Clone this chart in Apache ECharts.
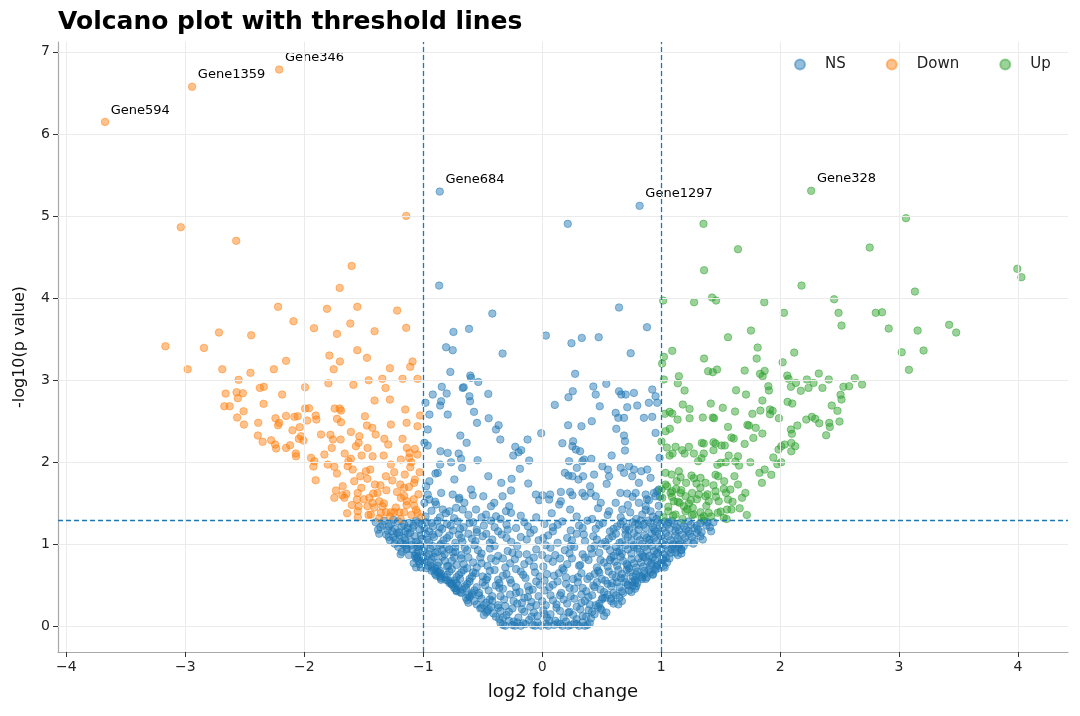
<!DOCTYPE html>
<html>
<head>
<meta charset="utf-8">
<script src="https://cdn.jsdelivr.net/npm/echarts@6/dist/echarts.min.js"></script>
<style>html,body{margin:0;padding:0;background:#fff}#chart{width:1080px;height:716px}</style>
</head>
<body>
<div id="chart"></div>
<script>
const xTicks = [-4,-3,-2,-1,0,1,2,3,4];
const yTicks = [0,1,2,3,4,5,6,7];
const fcThreshold = 1;
const pThreshold = 1.301;

const labeledGenes = [
  {name:'Gene594', group:'Down', x:-3.675, y:6.147},
  {name:'Gene1359', group:'Down', x:-2.943, y:6.574},
  {name:'Gene346', group:'Down', x:-2.211, y:6.784},
  {name:'Gene684', group:'NS', x:-0.861, y:5.298},
  {name:'Gene1297', group:'NS', x:0.819, y:5.124},
  {name:'Gene328', group:'Up', x:2.261, y:5.307}
];

const downPoints = [
[-3.038,4.864],[-2.572,4.698],[-1.143,5.002],[-1.602,4.393],[-1.702,4.125],[-2.220,3.894],[-1.809,3.870],[-1.554,3.894],[-1.219,3.849],[-2.091,3.719],[-1.918,3.634],[-1.613,3.691],[-1.725,3.565],[-1.409,3.597],[-2.717,3.581],[-2.446,3.548],[-1.143,3.638],
[-3.167,3.414],[-2.843,3.394],[-2.980,3.134],[-2.689,3.134],[-2.452,3.090],[-2.153,3.236],[-2.256,3.134],[-1.789,3.301],[-1.700,3.228],[-1.753,3.134],[-1.554,3.366],[-1.473,3.273],[-1.280,3.147],[-1.090,3.228],[-1.109,3.163],
[-2.552,3.005],[-1.993,2.915],[-1.797,2.963],[-1.587,2.944],[-1.459,3.000],[-1.344,3.017],[-1.174,3.017],[-1.048,3.017],[-1.317,2.907],
[-2.661,2.838],[-2.569,2.854],[-2.516,2.842],[-2.558,2.781],[-2.373,2.907],[-2.340,2.920],[-2.186,2.826],[-2.342,2.713],[-2.672,2.683],[-2.627,2.683],[-2.510,2.622],[-2.564,2.546],[-2.507,2.460],[-2.387,2.481],
[-2.242,2.537],[-2.220,2.452],[-2.211,2.481],[-2.153,2.566],[-2.083,2.554],[-2.055,2.562],[-1.976,2.509],[-1.993,2.655],[-1.960,2.659],[-1.904,2.570],[-1.898,2.521],[-1.744,2.655],[-1.702,2.655],[-1.691,2.631],[-1.725,2.530],[-1.691,2.488],
[-2.038,2.428],[-2.099,2.391],[-2.390,2.326],[-2.350,2.250],[-2.278,2.269],[-2.245,2.217],[-2.236,2.168],[-2.153,2.176],[-2.119,2.208],[-2.069,2.074],[-2.071,2.107],[-2.027,2.318],[-2.007,2.265],[-2.046,2.286],[-1.859,2.339],[-1.780,2.335],
[-1.759,2.278],[-1.694,2.278],[-1.769,2.176],[-1.831,2.095],[-1.943,2.055],[-1.915,2.014],[-1.923,1.949],[-1.904,1.782],[-1.803,1.973],[-1.747,1.945],[-1.725,1.864],[-1.660,2.107],[-1.629,2.014],[-1.608,2.043],[-1.635,1.953],[-1.593,1.912],
[-1.608,2.371],[-1.537,2.318],[-1.543,2.238],[-1.566,2.196],[-1.490,2.562],[-1.473,2.448],[-1.428,2.420],[-1.518,2.083],[-1.468,2.176],[-1.426,2.074],[-1.400,2.339],[-1.327,2.286],[-1.294,2.217],[-1.529,1.831],[-1.482,1.892],[-1.445,1.912],
[-1.409,2.753],[-1.280,2.765],[-1.151,2.643],[-1.272,2.460],[-1.140,2.481],[-1.026,2.570],[-1.174,2.286],[-1.138,2.176],[-1.071,2.164],[-1.115,2.115],[-1.048,2.095],[-1.333,2.083],[-1.272,1.973],[-1.244,1.880],[-1.314,1.831],
[-1.188,2.034],[-1.109,1.940],[-1.155,1.851],[-1.076,1.750],[-1.048,2.440],[-1.733,1.657],[-1.747,1.568],[-1.677,1.709],[-1.646,1.616],[-1.663,1.568],[-1.551,1.628],[-1.557,1.547],[-1.543,1.465],[-1.551,1.405],
[-1.453,1.568],[-1.468,1.465],[-1.426,1.507],[-1.440,1.364],[-1.406,1.730],[-1.384,1.628],[-1.369,1.526],[-1.342,1.465],[-1.356,1.385],[-1.314,1.392],[-1.272,1.392],[-1.244,1.392],[-1.202,1.392],[-1.160,1.392],
[-1.193,1.730],[-1.160,1.689],[-1.188,1.568],[-1.138,1.526],[-1.076,1.474],[-1.048,1.385],[-1.118,2.055],
[-1.02,1.33],[-1.06,1.42],[-1.10,1.36],[-1.14,1.48],[-1.19,1.31],[-1.23,1.45],[-1.28,1.34],[-1.33,1.50],[-1.37,1.32],[-1.41,1.45],[-1.46,1.36],[-1.50,1.55],[-1.55,1.33],[-1.60,1.48],[-1.64,1.38],[-1.68,1.60],
[-1.04,1.61],[-1.08,1.55],[-1.12,1.70],[-1.16,1.59],[-1.22,1.64],[-1.26,1.78],[-1.31,1.66],[-1.36,1.72],[-1.42,1.62],[-1.47,1.80],[-1.52,1.69],[-1.58,1.77],[-1.03,1.88],[-1.07,1.79],[-1.10,2.00]
];

const upPoints = [
[1.356,4.905],[1.646,4.596],[3.058,4.974],[2.753,4.616],[1.361,4.340],[3.994,4.357],[4.028,4.255],[2.180,4.153],[3.133,4.080],[1.017,3.971],[1.277,3.950],[1.428,4.007],[1.462,3.971],[1.867,3.950],[2.454,3.987],[2.032,3.821],[2.491,3.821],[2.804,3.821],[2.857,3.828],[2.516,3.666],[2.913,3.630],[3.156,3.605],[3.421,3.675],[3.480,3.581],[1.755,3.605],[1.562,3.524],[3.022,3.341],[3.206,3.362],[3.083,3.127],
[1.093,3.358],[1.023,3.285],[1.008,3.203],[1.811,3.398],[1.803,3.264],[1.361,3.264],[1.395,3.110],[1.434,3.098],[1.470,3.130],[1.702,3.118],[1.831,3.078],[1.853,3.049],[1.870,3.114],[2.119,3.337],[2.021,3.219],
[1.023,3.009],[1.149,3.049],[1.140,2.963],[1.197,2.875],[1.630,2.878],[1.713,2.826],[1.901,2.927],[1.906,2.875],[2.060,3.057],[2.071,3.017],[2.091,2.920],[2.133,2.968],[2.174,2.871],[2.225,3.009],[2.239,2.907],[2.281,2.968],[2.325,3.082],[2.356,2.907],[2.409,3.009],[2.532,2.920],[2.580,2.927],[2.627,3.025],[2.689,2.948],[2.508,2.822],[2.516,2.765],
[1.851,2.753],[2.063,2.737],[2.102,2.716],[2.434,2.692],[2.482,2.627],[1.417,2.716],[1.518,2.664],[1.182,2.704],[1.239,2.651],[1.031,2.591],[1.071,2.615],[1.093,2.595],[1.138,2.521],[1.239,2.537],[1.350,2.546],[1.434,2.546],[1.445,2.537],[1.621,2.619],[1.767,2.591],[1.834,2.631],[1.915,2.643],[1.937,2.627],[1.915,2.586],[1.990,2.537],
[2.220,2.521],[2.267,2.554],[2.295,2.530],[2.329,2.476],[2.413,2.481],[2.418,2.432],[2.499,2.497],[2.387,2.330],[2.145,2.448],[2.091,2.400],[2.099,2.347],[1.562,2.432],[1.725,2.456],[1.738,2.448],[1.795,2.420],[1.591,2.302],[1.610,2.290],[1.775,2.298],[1.851,2.351],[1.702,2.225],[1.535,2.205],[1.440,2.245],[1.457,2.229],[1.342,2.237],[1.358,2.229],
[1.073,2.408],[1.037,2.379],[1.003,2.253],[1.048,2.180],[1.121,2.189],[1.177,2.148],[1.233,2.189],[1.275,2.107],[1.197,2.107],[1.071,2.083],[1.096,2.107],[1.311,2.014],[1.339,2.051],[1.358,2.107],[1.440,2.148],[1.507,2.205],[1.568,2.083],[1.646,2.074],[1.624,2.010],[1.655,1.961],
[1.473,1.970],[1.501,1.994],[1.543,2.001],[1.457,1.848],[1.616,1.831],[1.750,2.001],[1.826,1.872],[1.870,1.912],[1.926,1.848],[1.847,1.750],[1.943,2.059],[1.977,1.977],[2.010,2.001],[1.987,2.156],[2.010,2.196],[2.038,2.217],[2.094,2.237],[2.127,2.196],[2.094,2.135],
[1.037,1.872],[1.088,1.851],[1.149,1.892],[1.163,1.819],[1.255,1.839],[1.275,1.807],[1.331,1.811],[1.373,1.750],[1.297,1.742],[1.093,1.648],[1.126,1.677],[1.163,1.628],[1.205,1.587],[1.260,1.628],[1.317,1.608],[1.107,1.526],[1.155,1.507],[1.191,1.465],[1.233,1.498],[1.266,1.446],
[1.373,1.587],[1.400,1.526],[1.457,1.648],[1.484,1.526],[1.526,1.677],[1.545,1.628],[1.582,1.669],[1.562,1.547],[1.646,1.730],[1.708,1.628],[1.680,1.568],
[1.059,1.404],[1.121,1.364],[1.205,1.404],[1.275,1.364],[1.331,1.392],[1.358,1.343],[1.400,1.385],[1.476,1.385],[1.526,1.324],[1.554,1.425],[1.591,1.425],[1.037,1.730],[1.079,1.628],[1.009,1.568],[1.003,1.669],
[1.02,1.33],[1.06,1.46],[1.10,1.35],[1.14,1.52],[1.18,1.31],[1.22,1.43],[1.26,1.36],[1.30,1.55],[1.34,1.32],[1.38,1.47],[1.42,1.34],[1.46,1.58],[1.50,1.40],[1.55,1.31],[1.60,1.52],[1.66,1.44],[1.72,1.36],
[1.05,1.71],[1.09,1.58],[1.13,1.77],[1.17,1.66],[1.21,1.75],[1.25,1.54],[1.33,1.69],[1.39,1.61],[1.44,1.72],[1.48,1.83],[1.53,1.77]
];

const nsPoints = [
[0.215,4.905],[-0.866,4.153],[0.646,3.886],[-0.419,3.812],[0.881,3.646],[-0.746,3.589],[-0.615,3.626],[0.031,3.544],[0.333,3.516],[0.475,3.524],
[-0.808,3.402],[-0.752,3.366],[-0.333,3.325],[0.246,3.451],[0.744,3.329],[-0.772,3.102],[-0.604,3.057],[-0.598,3.029],[-0.537,2.980],[0.277,3.078],[0.539,2.956],[0.430,2.923],[0.450,2.826],[0.484,2.683],[0.257,2.866],[0.221,2.793],[0.106,2.700],
[-0.844,2.920],[-0.920,2.826],[-0.803,2.838],[-0.668,2.907],[-0.660,2.915],[-0.612,2.805],[-0.606,2.744],[-0.453,2.834],[-0.981,2.725],[-0.849,2.744],[-0.858,2.692],[-0.948,2.582],[-0.794,2.582],[-0.573,2.615],[-0.450,2.537],[-0.548,2.481],[-0.366,2.452],[-0.388,2.400],[-0.352,2.278],
[-0.688,2.326],[-0.635,2.238],[-0.962,2.400],[-0.990,2.238],[-0.962,2.205],[-0.855,2.135],[-0.794,2.115],[-0.766,2.001],[-0.702,2.107],[-0.682,2.043],[-0.543,2.026],[-0.673,1.933],[-0.858,1.973],[-0.878,1.872],[-0.897,1.864],[-0.738,1.791],[-0.453,1.831],
[-0.226,2.189],[-0.243,2.083],[-0.199,2.123],[-0.176,2.148],[-0.123,2.278],[-0.008,2.355],[-0.109,2.022],[-0.187,1.921],[-0.257,1.799],[-0.344,1.750],[-0.117,1.742],[-0.262,1.657],[-0.849,1.628],[-0.948,1.770],[-0.962,1.608],
[0.170,2.233],[0.260,2.257],[0.254,2.196],[0.283,2.156],[0.218,2.452],[0.330,2.440],[0.417,2.501],[0.319,2.135],[0.226,2.014],[0.291,1.933],[0.338,2.014],[0.413,2.043],[0.352,2.034],[0.191,1.872],[0.221,1.839],[0.254,1.831],[0.305,1.791],[0.344,1.831],[0.403,1.709],[0.436,1.851],
[0.506,1.953],[0.553,1.912],[0.562,1.831],[0.542,1.738],[0.618,2.603],[0.640,2.542],[0.688,2.542],[0.623,2.408],[0.688,2.326],[0.696,2.257],[0.696,2.144],[0.584,2.083],[0.646,2.866],[0.665,2.826],[0.702,2.826],[0.771,2.846],[0.715,2.671],[0.799,2.692],[0.855,2.542],[0.925,2.554],[0.897,2.725],[0.953,2.805],[0.925,2.887],[0.967,2.725],[0.953,2.359],[0.987,2.055],
[0.660,1.933],[0.688,1.872],[0.730,1.953],[0.771,1.912],[0.757,1.831],[0.833,1.892],[0.883,1.912],[0.911,1.811],[0.813,1.750],[0.657,1.628],[0.715,1.620],[0.786,1.628],[0.870,1.608],[0.897,1.539],[0.939,1.628],[0.981,1.669],[0.953,1.587],
[-0.053,1.608],[0.003,1.599],[0.067,1.608],[-0.025,1.539],[0.059,1.547],[0.157,1.640],[0.235,1.640],[0.254,1.599],[0.157,1.526],[0.143,1.486],[0.235,1.425],[0.338,1.628],[0.358,1.587],[0.408,1.628],[0.450,1.587],[0.492,1.507],
[-0.752,1.608],[-0.696,1.568],[-0.598,1.669],[-0.584,1.599],[-0.495,1.587],[-0.403,1.507],[-0.430,1.465],[-0.333,1.587],[-0.304,1.405],[-0.277,1.465],[-0.262,1.385],[-0.891,1.486],[-0.836,1.425],[-0.780,1.404],[-0.724,1.446],[-0.668,1.425],[-0.654,1.507],[-0.556,1.425],[-0.472,1.364],[-0.388,1.343],
[-0.948,1.547],[-0.975,1.709],[-0.990,1.507],[0.618,1.507],[0.562,1.404],[0.673,1.425],[0.813,1.507],[0.870,1.465],[0.841,1.364],[0.911,1.404],[0.981,1.364],[0.967,1.648],
[-0.98,1.34],[-0.93,1.41],[-0.86,1.33],[-0.81,1.38],[-0.74,1.32],[-0.62,1.36],[-0.51,1.33],[-0.35,1.31],[-0.18,1.35],[-0.05,1.33],[0.08,1.38],[0.29,1.34],[0.42,1.31],[0.55,1.36],[0.66,1.33],[0.74,1.39],[0.79,1.31],[0.87,1.42],[0.93,1.34],[0.98,1.47],[0.96,1.31],[0.72,1.48],[-0.90,1.52],[-0.70,1.55],[0.47,1.44],[0.88,1.55],[0.99,1.58],[0.76,1.58],
[-1.40,1.27],[-1.36,1.21],[-1.33,1.29],[-1.30,1.17],[-1.27,1.25],[-1.24,1.19],[-1.21,1.28],[-1.18,1.22],[-1.15,1.16],[-1.12,1.26],[-1.09,1.20],[-1.06,1.29],[-1.03,1.18],[-1.01,1.24],[-0.98,1.27],[-0.95,1.16],[-0.92,1.22],[-0.88,1.29],[-0.84,1.19],[-0.80,1.25],[-0.75,1.17],[-0.71,1.28],[-0.66,1.21],[-0.61,1.26],[-0.55,1.18],[-0.49,1.23],[-0.43,1.29],[-0.37,1.16],[-0.30,1.24],[-0.22,1.20],[-0.15,1.27],[-0.07,1.18],[0.02,1.25],[0.09,1.21],[0.17,1.28],[0.24,1.17],[0.31,1.23],[0.38,1.29],[0.45,1.19],[0.51,1.26],[0.57,1.16],[0.63,1.22],[0.68,1.28],[0.73,1.18],[0.78,1.24],[0.83,1.29],[0.87,1.20],[0.91,1.26],[0.95,1.16],[0.99,1.23],[1.03,1.28],[1.07,1.19],[1.11,1.25],[1.15,1.17],[1.19,1.22],[1.23,1.28],[1.28,1.20],[1.33,1.26],[1.38,1.23],[1.44,1.27],
[-1.31,1.12],[-1.28,1.05],[-1.25,1.09],[-1.22,1.14],[-1.19,1.02],[-1.16,1.08],[-1.13,1.13],[-1.10,1.04],[-1.07,1.10],[-1.04,1.01],[-1.01,1.07],[-0.98,1.13],[-0.95,1.03],[-0.91,1.09],[-0.87,1.14],[-0.83,1.05],[-0.78,1.11],[-0.73,1.02],[-0.68,1.08],[-0.62,1.13],[-0.56,1.04],[-0.50,1.10],[-0.42,1.06],[-0.34,1.12],[-0.26,1.03],[-0.18,1.09],[-0.10,1.14],[-0.03,1.05],[0.05,1.11],[0.13,1.02],[0.21,1.08],[0.29,1.13],[0.36,1.04],[0.43,1.10],[0.50,1.01],[0.56,1.07],[0.62,1.13],[0.67,1.03],[0.72,1.09],[0.77,1.14],[0.82,1.05],[0.86,1.11],[0.90,1.02],[0.94,1.08],[0.98,1.13],[1.02,1.04],[1.06,1.10],[1.10,1.01],[1.14,1.07],[1.18,1.12],[1.22,1.03],[1.26,1.09],[1.30,1.14],[1.35,1.06],
[-1.21,0.97],[-1.18,0.91],[-1.15,0.99],[-1.12,0.87],[-1.09,0.94],[-1.06,0.89],[-1.03,0.98],[-1.00,0.92],[-0.97,0.86],[-0.94,0.95],[-0.90,0.90],[-0.86,0.99],[-0.82,0.88],[-0.78,0.94],[-0.73,0.97],[-0.68,0.87],[-0.63,0.93],[-0.57,0.99],[-0.51,0.89],[-0.44,0.95],[-0.37,0.86],[-0.29,0.92],[-0.21,0.98],[-0.13,0.88],[-0.05,0.94],[0.03,0.99],[0.11,0.87],[0.19,0.93],[0.27,0.97],[0.34,0.88],[0.41,0.95],[0.48,0.90],[0.54,0.98],[0.60,0.86],[0.65,0.92],[0.70,0.99],[0.75,0.89],[0.80,0.95],[0.84,0.87],[0.88,0.93],[0.92,0.98],[0.96,0.88],[1.00,0.94],[1.04,0.99],[1.08,0.90],[1.12,0.96],[1.14,0.87],[1.17,0.93],[1.19,0.98],
[-1.06,0.83],[-1.08,0.77],[-1.05,0.84],[-1.02,0.72],[-0.99,0.79],[-0.96,0.74],[-0.93,0.82],[-0.90,0.71],[-0.87,0.78],[-0.84,0.85],[-0.80,0.73],[-0.76,0.80],[-0.72,0.75],[-0.68,0.83],[-0.63,0.71],[-0.58,0.78],[-0.52,0.84],[-0.46,0.74],[-0.39,0.80],[-0.31,0.72],[-0.23,0.82],[-0.15,0.76],[-0.07,0.84],[0.01,0.73],[0.09,0.79],[0.17,0.71],[0.25,0.83],[0.32,0.75],[0.39,0.81],[0.46,0.72],[0.52,0.78],[0.58,0.84],[0.63,0.74],[0.68,0.80],[0.73,0.71],[0.77,0.77],[0.81,0.83],[0.85,0.73],[0.89,0.79],[0.93,0.84],[0.97,0.75],[1.01,0.81],[1.03,0.72],[1.05,0.78],[1.07,0.83],
[-0.93,0.68],[-0.89,0.62],[-0.91,0.69],[-0.85,0.57],[-0.85,0.64],[-0.82,0.60],[-0.78,0.67],[-0.74,0.56],[-0.70,0.63],[-0.66,0.69],[-0.61,0.58],[-0.56,0.65],[-0.50,0.61],[-0.44,0.68],[-0.37,0.57],[-0.30,0.64],[-0.22,0.70],[-0.14,0.59],[-0.06,0.66],[0.02,0.56],[0.10,0.62],[0.18,0.69],[0.26,0.58],[0.33,0.65],[0.40,0.61],[0.47,0.68],[0.53,0.56],[0.59,0.63],[0.64,0.69],[0.69,0.59],[0.74,0.66],[0.78,0.57],[0.82,0.62],[0.86,0.68],[0.88,0.60],[0.91,0.66],[0.93,0.63],[0.95,0.69],
[-0.78,0.53],[-0.74,0.47],[-0.77,0.54],[-0.72,0.43],[-0.71,0.50],[-0.67,0.45],[-0.63,0.52],[-0.59,0.41],[-0.55,0.48],[-0.50,0.54],[-0.45,0.44],[-0.39,0.50],[-0.33,0.46],[-0.26,0.53],[-0.19,0.42],[-0.12,0.49],[-0.05,0.55],[0.02,0.44],[0.09,0.51],[0.16,0.41],[0.23,0.47],[0.30,0.54],[0.37,0.43],[0.43,0.50],[0.49,0.45],[0.55,0.52],[0.60,0.41],[0.65,0.48],[0.70,0.54],[0.73,0.44],[0.76,0.50],[0.78,0.46],[0.80,0.53],
[-0.62,0.38],[-0.63,0.32],[-0.59,0.39],[-0.55,0.27],[-0.51,0.34],[-0.47,0.29],[-0.42,0.37],[-0.37,0.26],[-0.32,0.33],[-0.27,0.39],[-0.21,0.28],[-0.15,0.35],[-0.09,0.30],[-0.03,0.37],[0.03,0.26],[0.09,0.32],[0.15,0.38],[0.21,0.28],[0.27,0.34],[0.33,0.29],[0.39,0.36],[0.45,0.26],[0.50,0.33],[0.55,0.39],[0.60,0.28],[0.65,0.35],[0.67,0.31],
[-0.51,0.23],[-0.47,0.17],[-0.43,0.24],[-0.39,0.12],[-0.35,0.19],[-0.30,0.14],[-0.25,0.22],[-0.20,0.11],[-0.15,0.18],[-0.10,0.24],[-0.04,0.13],[0.01,0.20],[0.07,0.15],[0.12,0.23],[0.18,0.11],[0.23,0.18],[0.29,0.24],[0.34,0.13],[0.39,0.20],[0.44,0.15],[0.49,0.22],[0.54,0.17],
[-0.35,0.04],[-0.31,0.01],[-0.28,0.07],[-0.25,0.02],[-0.21,0.05],[-0.18,0.01],[-0.14,0.03],[-0.11,0.08],[-0.08,0.02],[-0.04,0.05],[-0.01,0.01],[0.03,0.03],[0.06,0.07],[0.10,0.02],[0.13,0.04],[0.17,0.01],[0.20,0.06],[0.24,0.02],[0.27,0.04],[0.31,0.01],[0.34,0.05],[0.38,0.02],
[-1.38,1.18],[-1.34,1.24],[-1.29,1.22],[-1.25,1.30],[-1.20,1.15],[-1.16,1.24],[-1.13,1.20],[-1.08,1.23],[-1.04,1.27],[-0.99,1.19],[-0.93,1.26],[-0.86,1.21],[-0.77,1.23],[-0.69,1.19],[-0.58,1.27],[-0.40,1.21],[-0.12,1.22],[0.13,1.24],[0.34,1.20],[0.48,1.24],[0.60,1.19],[0.66,1.25],[0.71,1.21],[0.76,1.27],[0.81,1.18],[0.85,1.24],[0.89,1.29],[0.93,1.21],[0.97,1.27],[1.01,1.19],[1.05,1.24],[1.09,1.29],[1.13,1.21],[1.17,1.26],[1.21,1.18],[1.25,1.24],[1.31,1.18],[1.36,1.29],[1.41,1.21],
[-1.29,1.09],[-1.24,1.01],[-1.20,1.11],[-1.15,1.05],[-1.11,1.14],[-1.06,1.03],[-1.02,1.11],[-0.97,1.06],[-0.92,1.12],[-0.85,1.01],[-0.80,1.08],[-0.70,1.12],[-0.59,1.07],[-0.47,1.13],[-0.30,1.08],[0.01,1.08],[0.25,1.05],[0.46,1.06],[0.59,1.10],[0.65,1.02],[0.70,1.12],[0.75,1.05],[0.80,1.10],[0.84,1.01],[0.88,1.08],[0.92,1.13],[0.96,1.04],[1.00,1.10],[1.04,1.14],[1.08,1.05],[1.12,1.11],[1.16,1.03],[1.20,1.08],[1.24,1.13],[1.28,1.04],[1.33,1.10],
[-1.19,0.88],[-1.14,0.94],[-1.10,0.99],[-1.07,0.86],[-1.04,0.92],[-0.99,0.96],[-0.95,0.88],[-0.92,0.98],[-0.88,0.91],[-0.80,0.97],[-0.75,0.90],[-0.65,0.96],[-0.54,0.93],[-0.40,0.98],[-0.25,0.90],[0.07,0.96],[0.23,0.89],[0.44,0.98],[0.57,0.93],[0.62,0.97],[0.67,0.89],[0.72,0.94],[0.77,0.99],[0.82,0.91],[0.86,0.97],[0.90,0.86],[0.94,0.92],[0.98,0.97],[1.02,0.88],[1.06,0.93],[1.10,0.99],[1.12,0.90],[1.15,0.97],[1.17,0.89],
[-1.06,0.72],[-1.04,0.80],[-1.03,0.76],[-1.00,0.84],[-0.97,0.71],[-0.94,0.78],[-0.91,0.85],[-0.88,0.74],[-0.82,0.80],[-0.74,0.84],[-0.66,0.76],[-0.55,0.72],[-0.43,0.83],[-0.27,0.77],[-0.11,0.80],[0.05,0.83],[0.21,0.76],[0.36,0.84],[0.49,0.81],[0.55,0.73],[0.61,0.79],[0.66,0.85],[0.71,0.76],[0.75,0.82],[0.79,0.72],[0.83,0.78],[0.87,0.84],[0.91,0.75],[0.95,0.81],[0.97,0.71],[1.00,0.77],[1.04,0.84],[1.02,0.74],
[-0.85,0.59],[-0.88,0.66],[-0.86,0.61],[-0.86,0.68],[-0.79,0.56],[-0.80,0.63],[-0.76,0.70],[-0.72,0.60],[-0.68,0.66],[-0.59,0.61],[-0.47,0.57],[-0.33,0.62],[-0.18,0.67],[-0.02,0.61],[0.14,0.65],[0.30,0.60],[0.44,0.64],[0.50,0.58],[0.56,0.67],[0.62,0.60],[0.67,0.64],[0.71,0.69],[0.76,0.61],[0.80,0.67],[0.84,0.58],[0.86,0.64],[0.90,0.69],[0.87,0.58],[0.93,0.64],
[-0.72,0.44],[-0.76,0.51],[-0.73,0.47],[-0.72,0.53],[-0.69,0.42],[-0.65,0.49],[-0.61,0.55],[-0.57,0.44],[-0.48,0.50],[-0.36,0.53],[-0.22,0.48],[-0.08,0.45],[0.06,0.48],[0.20,0.52],[0.34,0.47],[0.46,0.54],[0.52,0.42],[0.58,0.49],[0.63,0.54],[0.67,0.43],[0.72,0.50],[0.76,0.55],[0.75,0.42],[0.79,0.49],
[-0.62,0.29],[-0.61,0.36],[-0.57,0.31],[-0.53,0.38],[-0.49,0.26],[-0.44,0.33],[-0.35,0.37],[-0.24,0.31],[-0.12,0.36],[0.00,0.31],[0.12,0.27],[0.24,0.37],[0.36,0.31],[0.42,0.38],[0.48,0.28],[0.53,0.35],[0.58,0.31],[0.62,0.38],[0.64,0.27],
[-0.49,0.14],[-0.45,0.21],[-0.41,0.16],[-0.37,0.23],[-0.33,0.11],[-0.28,0.18],[-0.17,0.21],[-0.07,0.17],[0.04,0.11],[0.15,0.19],[0.26,0.14],[0.32,0.21],[0.37,0.12],[0.42,0.18],[0.47,0.24],[0.52,0.13],
[-0.33,0.02],[-0.23,0.01],[-0.16,0.04],[-0.06,0.01],[0.05,0.01],[0.15,0.03],[0.22,0.01],[0.29,0.03],[0.36,0.01],[0.40,0.04],
[-1.37,1.13],[-1.26,1.16],[-1.17,1.01],[-1.23,1.06],[-1.14,0.96],[-1.05,0.86],[-1.05,0.97],[-1.01,0.80],[-0.90,0.64],[-0.93,0.73],[-0.76,0.52],[-0.87,0.66],[-0.84,0.93],[-0.81,0.57],[-0.79,0.74],[-0.68,0.41],[-0.73,0.91],[-0.64,0.35],[-0.69,0.58],[-0.67,1.03],[-0.64,0.47],[-0.62,0.84],[-0.52,0.22],[-0.58,0.66],[-0.55,1.15],[-0.53,0.41],[-0.51,0.77],[-0.46,0.19],[-0.46,0.60],[-0.44,1.02],[-0.42,0.31],[-0.40,0.69],[-0.36,0.09],[-0.36,0.47],[-0.33,0.83],[-0.31,0.25],[-0.29,1.18],[-0.27,0.57],[-0.24,0.06],[-0.22,0.41],[-0.20,0.88],[-0.17,0.29],[-0.16,0.63],[-0.13,1.06],[-0.11,0.44],[-0.09,0.12],[-0.07,0.73],[-0.05,0.26],[-0.02,0.51],[0.00,0.87],[0.02,0.15],[0.04,0.64],[0.07,0.38],[0.09,1.16],[0.11,0.07],[0.13,0.55],[0.15,0.83],[0.18,0.33],[0.20,0.60],[0.22,0.17],[0.24,0.98],[0.27,0.46],[0.29,0.09],[0.31,0.74],[0.33,0.39],[0.35,1.12],[0.38,0.58],[0.40,0.27],[0.42,0.89],[0.44,0.48],[0.41,0.10],[0.48,0.66],[0.51,0.35],[0.53,1.03],[0.50,0.20],[0.57,0.81],[0.59,0.53],[0.58,0.34],[0.63,0.91],[0.66,0.59],[0.68,0.41],[0.70,1.18],[0.72,0.74],[0.72,0.51],[0.77,0.97],[0.79,0.63],[0.81,1.24],[0.78,0.54],[0.85,0.85],[0.84,0.60],[0.90,1.06],[0.92,0.77],[0.94,1.18],[0.97,0.90],[0.96,0.73],[1.01,1.01],[1.02,0.82],[1.06,1.27],[1.09,0.94],[1.12,1.16],[1.15,1.00],[1.17,0.94],[1.23,1.16],[1.27,1.01],[1.30,1.23],[1.34,1.15],[1.39,1.27],[1.42,1.16]
];

const groupColors = {NS:'rgba(31,119,180,0.6)', Down:'rgba(255,127,14,0.6)', Up:'rgba(44,160,44,0.6)'};
const FONT = 'DejaVu Sans';

function buildData(points, group){
  const out = points.map(p => ({value:[p[0], p[1]]}));
  labeledGenes.filter(g => g.group === group).forEach(g => {
    out.push({
      name: g.name,
      value: [g.x, g.y],
      label: {show:true, formatter:'{b}', position:[10,-14], fontSize:13, color:'#000', opacity:1,
              textBorderWidth:0, textShadowBlur:0, fontFamily:FONT}
    });
  });
  return out;
}

function scatterSeries(name, points){
  return {
    name: name,
    type: 'scatter',
    symbol: 'circle',
    symbolSize: 7.5,
    z: 3,
    clip: false,
    itemStyle: {color: groupColors[name], borderColor: groupColors[name], borderWidth: 1},
    emphasis: {disabled: true},
    data: buildData(points, name)
  };
}

const chart = echarts.init(document.getElementById('chart'), null, {renderer:'canvas'});
const fmtMinus = v => (v < 0 ? '\u2212' + Math.abs(v) : String(v));

chart.setOption({
  animation: false,
  backgroundColor: '#ffffff',
  title: {
    text: 'Volcano plot with threshold lines',
    left: 53, top: 5,
    textStyle: {fontFamily: FONT, fontSize: 25, fontWeight: 'bold', color: '#000'}
  },
  legend: {
    data: ['NS','Down','Up'],
    left: 789, top: 52,
    icon: 'circle',
    itemWidth: 10, itemHeight: 10,
    itemGap: 40,
    textStyle: {fontFamily: FONT, fontSize: 15, color: '#222', padding:[0,0,0,15]}
  },
  grid: {left: 58, right: 12, top: 42, bottom: 64},
  xAxis: {
    type: 'value', min: -4.07, max: 4.42,
    name: 'log2 fold change', nameLocation: 'middle', nameGap: 31,
    nameTextStyle: {fontFamily: FONT, fontSize: 18, color: '#111'},
    axisLine: {show: true, onZero: false, lineStyle: {color: '#a8a8a8', width: 1.2}},
    axisTick: {show: true, customValues: xTicks, length: 5, lineStyle: {color: '#333'}},
    axisLabel: {customValues: xTicks, formatter: fmtMinus, fontFamily: FONT, fontSize: 14, color: '#222', margin: 8},
    splitLine: {show: false}
  },
  yAxis: {
    type: 'value', min: -0.31, max: 7.12,
    name: '-log10(p value)', nameLocation: 'middle', nameGap: 30, nameRotate: 90,
    nameTextStyle: {fontFamily: FONT, fontSize: 16, color: '#111'},
    axisLine: {show: true, onZero: false, lineStyle: {color: '#a8a8a8', width: 1.2}},
    axisTick: {show: true, customValues: yTicks, length: 5, lineStyle: {color: '#333'}},
    axisLabel: {customValues: yTicks, formatter: fmtMinus, fontFamily: FONT, fontSize: 14, color: '#222', margin: 8},
    splitLine: {show: false}
  },
  series: [
    {
      name: 'grid', type: 'line', data: [], z: 1, silent: true,
      markLine: {
        silent: true, symbol: ['none','none'], label: {show: false},
        lineStyle: {color: '#ebebeb', width: 1, type: 'solid'},
        emphasis: {disabled: true},
        data: xTicks.map(v => ({xAxis: v})).concat(yTicks.map(v => ({yAxis: v})))
      }
    },
    scatterSeries('NS', nsPoints),
    scatterSeries('Down', downPoints),
    scatterSeries('Up', upPoints),
    {
      name: 'thresholds', type: 'line', data: [], z: 10, silent: true,
      markLine: {
        silent: true, symbol: ['none','none'], label: {show: false},
        lineStyle: {color: '#1f77b4', width: 1.3, type: [5,3]},
        emphasis: {disabled: true},
        data: [{xAxis: -fcThreshold}, {xAxis: fcThreshold}, {yAxis: pThreshold}]
      }
    }
  ]
});
</script>
</body>
</html>
